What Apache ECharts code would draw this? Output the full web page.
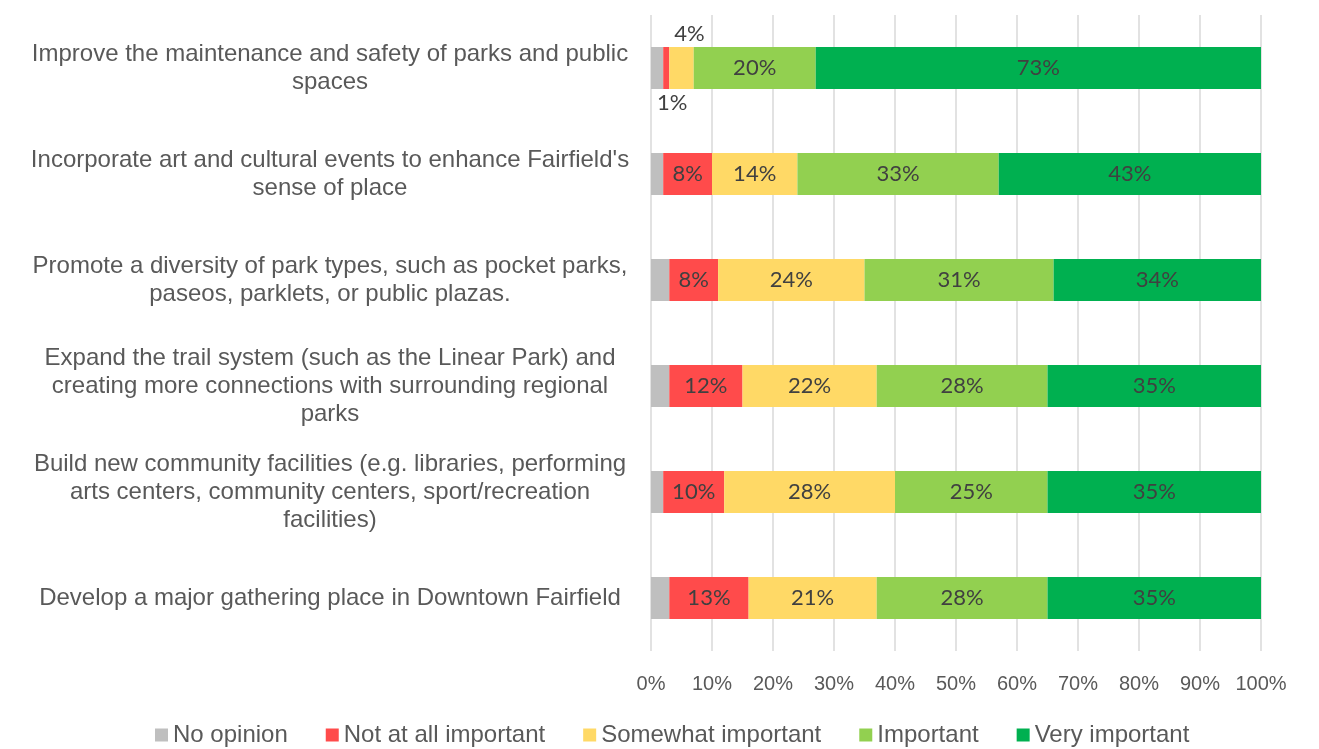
<!DOCTYPE html>
<html>
<head>
<meta charset="utf-8">
<script src="https://cdn.jsdelivr.net/npm/echarts@6/dist/echarts.min.js"></script>
<style>
  html, body { margin: 0; padding: 0; background: #fff; }
  #chart { width: 1319px; height: 749px; }
</style>
</head>
<body>
<div id="chart"></div>
<script>
// 100% stacked horizontal bars, top row first.
const categories = [
  "Improve the maintenance and safety of parks and public\nspaces",
  "Incorporate art and cultural events to enhance Fairfield's\nsense of place",
  "Promote a diversity of park types, such as pocket parks,\npaseos, parklets, or public plazas.",
  "Expand the trail system (such as the Linear Park) and\ncreating more connections with surrounding regional\nparks",
  "Build new community facilities (e.g. libraries, performing\narts centers, community centers, sport/recreation\nfacilities)",
  "Develop a major gathering place in Downtown Fairfield",
];
const noOpinion = [2, 2, 3, 3, 2, 3];
const notAtAll = [1, 8, 8, 12, 10, 13];
const somewhat = [4, 14, 24, 22, 28, 21];
const important = [20, 33, 31, 28, 25, 28];
const veryImportant = [73, 43, 34, 35, 35, 35];
const xTicks = [0, 10, 20, 30, 40, 50, 60, 70, 80, 90, 100];

const COLORS = {
  none: "#bfbfbf",
  notAtAll: "#ff4b4b",
  somewhat: "#ffd966",
  important: "#92d050",
  very: "#00b050",
};

const labelFont = { fontFamily: "Lato", fontSize: 22, color: "#404040" };

function barSeries(name, data, color, showLabel) {
  return {
    name,
    type: "bar",
    stack: "total",
    barWidth: 42,
    itemStyle: { color },
    label: Object.assign({ show: showLabel, position: "inside", formatter: "{c}%" }, labelFont),
    emphasis: { disabled: true },
    data: data.slice(),
  };
}

const seriesList = [
  barSeries("No opinion", noOpinion, COLORS.none, false),
  barSeries("Not at all important", notAtAll, COLORS.notAtAll, true),
  barSeries("Somewhat important", somewhat, COLORS.somewhat, true),
  barSeries("Important", important, COLORS.important, true),
  barSeries("Very important", veryImportant, COLORS.very, true),
];

// tiny segments on the first row get their labels outside the bar
seriesList[1].data[0] = { value: notAtAll[0], label: { position: "bottom", distance: 3, offset: [6, 0] } };
seriesList[2].data[0] = { value: somewhat[0], label: { position: "top", distance: 2, offset: [8, 0] } };

const chart = echarts.init(document.getElementById("chart"));
chart.setOption({
  backgroundColor: "#fff",
  animation: false,
  grid: { left: 651, right: 58, top: 15, height: 636 },
  legend: {
    bottom: -3,
    left: 150,
    itemWidth: 13,
    itemHeight: 13,
    itemGap: 38,
    icon: "rect",
    textStyle: { fontFamily: "Liberation Sans", fontSize: 24, color: "#595959" },
    data: seriesList.map((s) => s.name),
  },
  xAxis: {
    type: "value",
    min: 0,
    max: 100,
    interval: 10,
    axisLine: { show: false },
    axisTick: { show: false },
    axisLabel: {
      fontFamily: "Liberation Sans",
      fontSize: 20,
      color: "#595959",
      margin: 23,
      formatter: (v) => (xTicks.includes(v) ? v + "%" : ""),
    },
    splitLine: { lineStyle: { color: "#d9d9d9", width: 1.5 } },
  },
  yAxis: {
    type: "category",
    inverse: true,
    data: categories,
    axisLine: { show: false },
    axisTick: { show: false },
    axisLabel: {
      fontFamily: "Liberation Sans",
      fontSize: 24,
      color: "#595959",
      align: "center",
      margin: 321,
      lineHeight: 28,
    },
  },
  series: seriesList,
});
</script>
</body>
</html>
